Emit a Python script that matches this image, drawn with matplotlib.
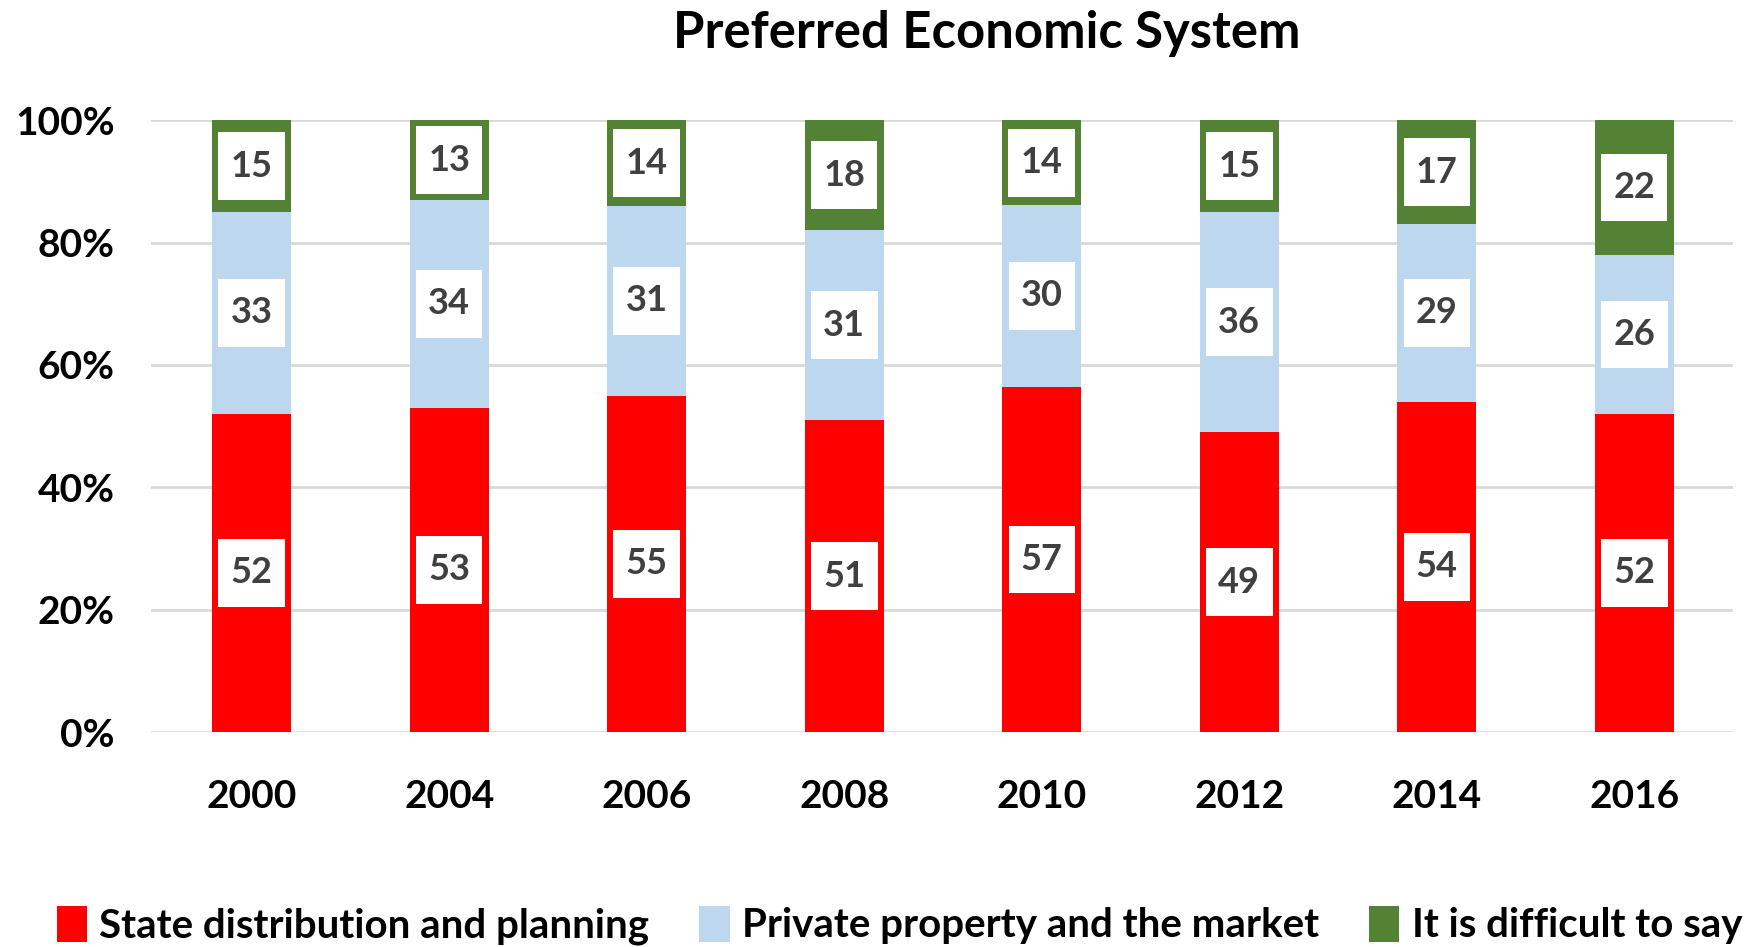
import matplotlib
matplotlib.use("Agg")
import matplotlib.pyplot as plt
from matplotlib.path import Path
import numpy as np

years = ["2000", "2004", "2006", "2008", "2010", "2012", "2014", "2016"]
state = [52, 53, 55, 51, 57, 49, 54, 52]
private = [33, 34, 31, 31, 30, 36, 29, 26]
difficult = [15, 13, 14, 18, 14, 15, 17, 22]
series_names = ["State distribution and planning", "Private property and the market", "It is difficult to say"]
colors = ["#FF0000", "#BDD7EE", "#548235"]
yticks = [0, 20, 40, 60, 80, 100]
ytick_labels = ["0%", "20%", "40%", "60%", "80%", "100%"]

plt.rcParams['font.family'] = ['Lato', 'DejaVu Sans']


def label_box(x0, y0, width, height, mutation_size):
    px = 0.34 * mutation_size
    py = 0.48 * mutation_size
    x0, y0 = x0 - px, y0 - py
    x1, y1 = x0 + width + 2 * px, y0 + height + 2 * py
    return Path([(x0, y0), (x1, y0), (x1, y1), (x0, y1), (x0, y0)],
                [Path.MOVETO, Path.LINETO, Path.LINETO, Path.LINETO, Path.CLOSEPOLY])


fig = plt.figure(figsize=(17.55, 9.47), dpi=100)
ax = fig.add_axes([0.086, 0.227, 0.9015, 0.646])

data = np.array([state, private, difficult], dtype=float)
totals = data.sum(axis=0)
pct = data / totals * 100
x = np.arange(len(years))
bottom = np.zeros(len(years))
for i in range(3):
    ax.bar(x, pct[i], 0.4, bottom=bottom, color=colors[i], label=series_names[i], zorder=2)
    for j in range(len(years)):
        ax.text(x[j], bottom[j] + pct[i][j] / 2, str(int(data[i][j])), ha='center', va='center',
                fontsize=26, fontweight='bold', color='#404040', zorder=3,
                bbox=dict(boxstyle=label_box, fc='white', ec='none'))
    bottom += pct[i]

ax.set_xlim(-0.51, 7.5)
ax.set_ylim(0, 100)
ax.set_yticks(yticks)
ax.set_yticklabels(ytick_labels, fontsize=28, fontweight='bold')
ax.set_xticks(x)
ax.set_xticklabels(years, fontsize=28, fontweight='bold')
ax.tick_params(axis='both', length=0)
ax.tick_params(axis='y', pad=26)
ax.tick_params(axis='x', pad=34)
ax.grid(axis='y', color='#D9D9D9', linewidth=2, zorder=0)
for s in ax.spines.values():
    s.set_visible(False)

fig.text(0.5625, 0.965, "Preferred Economic System", ha='center', va='center',
         fontsize=36.5, fontweight='bold')

leg = fig.legend(loc='center', bbox_to_anchor=(0.5125, 0.023), ncol=3, frameon=False,
                 prop={'size': 29, 'weight': 'bold'}, handlelength=0.75, handleheight=1.0,
                 handletextpad=0.3, columnspacing=1.25)

fig.savefig("out.png", dpi=100)
